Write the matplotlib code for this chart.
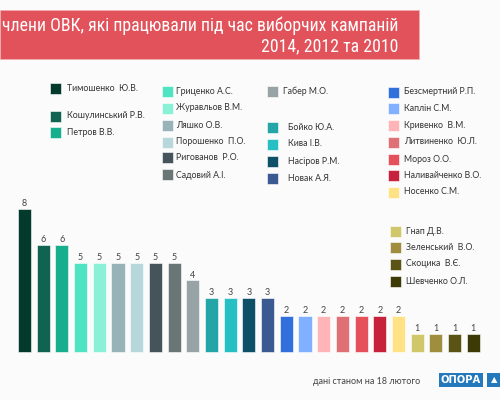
import matplotlib
matplotlib.use("Agg")
import matplotlib.pyplot as plt
from matplotlib import font_manager
from matplotlib.patches import Rectangle

names = ["Тимошенко  Ю.В.", "Кошулинський Р.В.", "Петров В.В.", "Гриценко А.С.",
         "Журавльов В.М.", "Ляшко О.В.", "Порошенко  П.О.", "Ригованов  Р.О.",
         "Садовий А.І.", "Габер М.О.", "Бойко Ю.А.", "Кива І.В.", "Насіров Р.М.",
         "Новак А.Я.", "Безсмертний Р.П.", "Каплін С.М.", "Кривенко  В.М.",
         "Литвиненко  Ю.Л.", "Мороз О.О.", "Наливайченко В.О.", "Носенко С.М.",
         "Гнап Д.В.", "Зеленський  В.О.", "Скоцика  В.Є.", "Шевченко О.Л."]
values = [8, 6, 6, 5, 5, 5, 5, 5, 5, 4, 3, 3, 3, 3, 2, 2, 2, 2, 2, 2, 2, 1, 1, 1, 1]
colors = ["#033a2c", "#0f6350", "#16ae8c", "#4fe3c1", "#8af0d6", "#98b3b8",
          "#b7d7db", "#45545a", "#6a7575", "#98a3a6", "#24a6a8", "#25bfc4",
          "#0d5068", "#3a5a91", "#3170dc", "#80b0ff", "#ffb5b8", "#df7176",
          "#e5505a", "#c7223b", "#ffe285", "#cfc76a", "#a08e3f", "#5b5313",
          "#3d3a08"]
title_lines = ["члени ОВК, які працювали під час виборчих кампаній", "2014, 2012 та 2010"]
footer = "дані станом на 18 лютого"
logo = "ОПОРА"

# legend layout (pixel positions: square left x, centre y, text x)
legend_layout = [
    (50, 88.5, 67), (50, 116, 67), (50, 132.5, 67),
    (162, 91, 176), (162, 108, 176), (162, 125, 176), (162, 142, 176), (162, 158, 176), (162, 175, 176),
    (267, 91, 283), (267, 127, 288), (267, 144, 288), (267, 161, 288), (267, 178, 288),
    (388, 92, 404), (388, 108.5, 404), (388, 125, 404), (388, 142, 404), (388, 159, 404), (388, 175.5, 404), (388, 192, 404),
    (390, 231, 406), (390, 247.5, 406), (390, 264, 406), (390, 281, 406),
]

avail = {f.name for f in font_manager.fontManager.ttflist}
def pick(cands):
    for c in cands:
        if c in avail:
            return c
    return "DejaVu Sans"
title_font = pick(["Roboto Condensed", "Liberation Sans Narrow", "Roboto", "Open Sans"])
body_font = pick(["Lato", "Noto Sans", "Roboto", "DejaVu Sans"])

W, H = 500, 400
fig = plt.figure(figsize=(5, 4), dpi=100)
fig.patch.set_facecolor("#fbfbfb")

def fx(px):
    return px / W
def fy(py):
    return 1 - py / H

# bars axes covering the figure
ax = fig.add_axes([0, 0, 1, 1])
ax.set_facecolor("none")
ax.axis("off")
spacing = 18.7
unit = 17.9
x = list(range(len(values)))
ax.bar(x, values, width=0.7, color=colors, edgecolor="white", linewidth=0.4)
ax.set_xlim(-24.5 / spacing, (W - 24.5) / spacing)
ax.set_ylim(-(H - 352) / unit, 352 / unit)
for xi, v in zip(x, values):
    ax.text(xi, v + 0.05, str(v), ha="center", va="bottom", fontsize=6.5,
            color="#444444", family=body_font)

# title banner
fig.patches.append(Rectangle((0, fy(59)), fx(419), (59 - 10) / H, transform=fig.transFigure,
                             facecolor="#e2525b", edgecolor="#f0b0b0", linewidth=0.5, zorder=1))
t1 = fig.text(fx(398), fy(31), title_lines[0], ha="right", va="baseline", color="white",
              fontsize=14, family=title_font, zorder=3)
t2 = fig.text(fx(398), fy(51), title_lines[1], ha="right", va="baseline", color="white",
              fontsize=14, family=title_font, zorder=3)
fig.canvas.draw()
r = fig.canvas.get_renderer()
wpx = t1.get_window_extent(r).width
fs = 14 * 398 / wpx
fs = min(fs, 16)
t1.set_fontsize(fs)
t2.set_fontsize(fs)

# legend
for (sx, cy, tx), name, c in zip(legend_layout, names, colors):
    fig.patches.append(Rectangle((fx(sx), fy(cy + 5.5)), fx(10.5), 11 / H, transform=fig.transFigure,
                                 facecolor=c, edgecolor="white", linewidth=0.4, zorder=2))
    fig.text(fx(tx), fy(cy), name, ha="left", va="center", fontsize=6.3, color="#333333",
             family=body_font)

# footer
fig.text(fx(367), fy(381), footer, ha="center", va="center", fontsize=6.5, color="#444444",
         family=body_font)
fig.patches.append(Rectangle((fx(439), fy(386.5)), fx(44), 13.5 / H, transform=fig.transFigure,
                             facecolor="#2479bd", edgecolor="none", zorder=2))
fig.patches.append(Rectangle((fx(487), fy(386.5)), fx(14), 13.5 / H, transform=fig.transFigure,
                             facecolor="#2479bd", edgecolor="none", zorder=2))
fig.text(fx(461), fy(380), logo, ha="center", va="center", fontsize=7.2, color="white",
         fontweight="bold", family="DejaVu Sans", zorder=3)
fig.text(fx(494), fy(380), "▲", ha="center", va="center", fontsize=6, color="white",
         family="DejaVu Sans", zorder=3)

fig.savefig("out.png", dpi=100, facecolor=fig.get_facecolor())
